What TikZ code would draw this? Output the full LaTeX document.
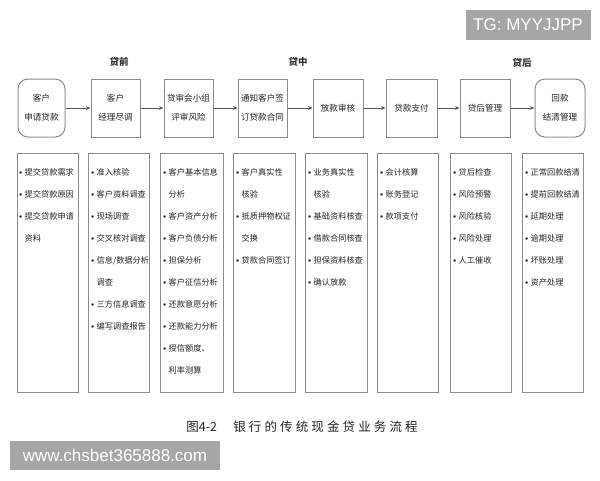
\documentclass[tikz,border=0pt]{standalone}
\usepackage{fontspec}
\setmainfont{Noto Sans CJK SC}
\newfontfamily\latinsans{Liberation Sans}
\usetikzlibrary{arrows.meta}
\newcommand\bul{\makebox[5.5pt][l]{\raisebox{0.4pt}{\scalebox{0.75}{$\bullet$}}}}
\newcommand\ind{\hspace*{5.5pt}}
\begin{document}
\begin{tikzpicture}[x=1pt,y=-1pt,
  topbox/.style={draw=black!45, line width=1pt, fill=white, minimum height=58pt,
    minimum width=49pt, inner sep=0pt, align=center,
    font=\fontsize{8.6}{19}\selectfont, text=black!85},
  roundbox/.style={topbox, rounded corners=10pt},
  botbox/.style={draw=black!45, line width=1pt, fill=white, minimum height=239pt,
    minimum width=61pt, inner sep=0pt},
  listtext/.style={anchor=north west, inner sep=0pt, align=left,
    font=\fontsize{8.2}{22}\selectfont, text=black!85},
  phase/.style={font=\fontsize{9.5}{10}\selectfont\bfseries, text=black!80},
  arr/.style={draw=black!65, line width=0.9pt, -{Stealth[length=4.5pt,width=3.8pt]}},
  wm/.style={fill=black!35, text=white, inner sep=0pt,
    font=\latinsans\fontsize{17}{17}\selectfont}
]
\useasboundingbox (0,0) rectangle (600,480);
\fill[white] (0,0) rectangle (600,480);

% phase labels
\node[phase] (p1) at (119,62) {贷前};
\node[phase] (p2) at (298,62) {贷中};
\node[phase] (p3) at (522,63) {贷后};

% top process boxes
\node[roundbox, minimum width=47pt] (t1) at (41.5,108) {客户\\申请贷款};
\node[topbox] (t2) at (115.5,108) {客户\\经理尽调};
\node[topbox] (t3) at (188.5,108) {贷审会小组\\评审风险};
\node[topbox] (t4) at (262.5,108) {通知客户签\\订贷款合同};
\node[topbox, minimum width=50pt] (t5) at (338,108) {放款审核};
\node[topbox, minimum width=51pt] (t6) at (411.5,108) {贷款支付};
\node[topbox, minimum width=50pt] (t7) at (485,108) {贷后管理};
\node[roundbox, minimum width=50pt] (t8) at (560,108) {回款\\结清管理};

\draw[arr] (t1) -- (t2);
\draw[arr] (t2) -- (t3);
\draw[arr] (t3) -- (t4);
\draw[arr] (t4) -- (t5);
\draw[arr] (t5) -- (t6);
\draw[arr] (t6) -- (t7);
\draw[arr] (t7) -- (t8);

% bottom detail boxes
\node[botbox] (b1) at (47.5,272.5) {};
\node[botbox] (b2) at (119,272.5) {};
\node[botbox, minimum width=63pt] (b3) at (191.5,272.5) {};
\node[botbox, minimum width=62pt] (b4) at (264,272.5) {};
\node[botbox, minimum width=62pt] (b5) at (336,272.5) {};
\node[botbox] (b6) at (407.5,272.5) {};
\node[botbox] (b7) at (480.5,272.5) {};
\node[botbox] (b8) at (552.5,272.5) {};

\node[listtext] (l1) at (19,168) {\bul 提交贷款需求\\\bul 提交贷款原因\\\bul 提交贷款申请\\\ind 资料};
\node[listtext] (l2) at (91,168) {\bul 准入核验\\\bul 客户资料调查\\\bul 现场调查\\\bul 交叉核对调查\\\bul 信息/数据分析\\\ind 调查\\\bul 三方信息调查\\\bul 编写调查报告};
\node[listtext] (l3) at (163,168) {\bul 客户基本信息\\\ind 分析\\\bul 客户资产分析\\\bul 客户负债分析\\\bul 担保分析\\\bul 客户征信分析\\\bul 还款意愿分析\\\bul 还款能力分析\\\bul 授信额度、\\\ind 利率测算};
\node[listtext] (l4) at (236,168) {\bul 客户真实性\\\ind 核验\\\bul 抵质押物权证\\\ind 交换\\\bul 贷款合同签订};
\node[listtext] (l5) at (308,168) {\bul 业务真实性\\\ind 核验\\\bul 基础资料核查\\\bul 借款合同核查\\\bul 担保资料核查\\\bul 确认放款};
\node[listtext] (l6) at (380,168) {\bul 会计核算\\\bul 账务登记\\\bul 款项支付};
\node[listtext] (l7) at (453,168) {\bul 贷后检查\\\bul 风险预警\\\bul 风险核验\\\bul 风险处理\\\bul 人工催收};
\node[listtext] (l8) at (525,168) {\bul 正常回款结清\\\bul 提前回款结清\\\bul 延期处理\\\bul 逾期处理\\\bul 坏账处理\\\bul 资产处理};

% caption
\node[text=black!85, font=\fontsize{12.5}{14}\selectfont] (cap) at (302,427)
  {图4-2\hspace{1.3em}{\addfontfeature{LetterSpace=25}银行的传统现金贷业务流程}};

% watermarks
\node[wm, minimum width=125pt, minimum height=30pt] (tg) at (528,25) {TG: MYYJJPP};
\node[wm, minimum width=210pt, minimum height=29pt] (www) at (115,455) {www.chsbet365888.com};
\end{tikzpicture}
\end{document}
